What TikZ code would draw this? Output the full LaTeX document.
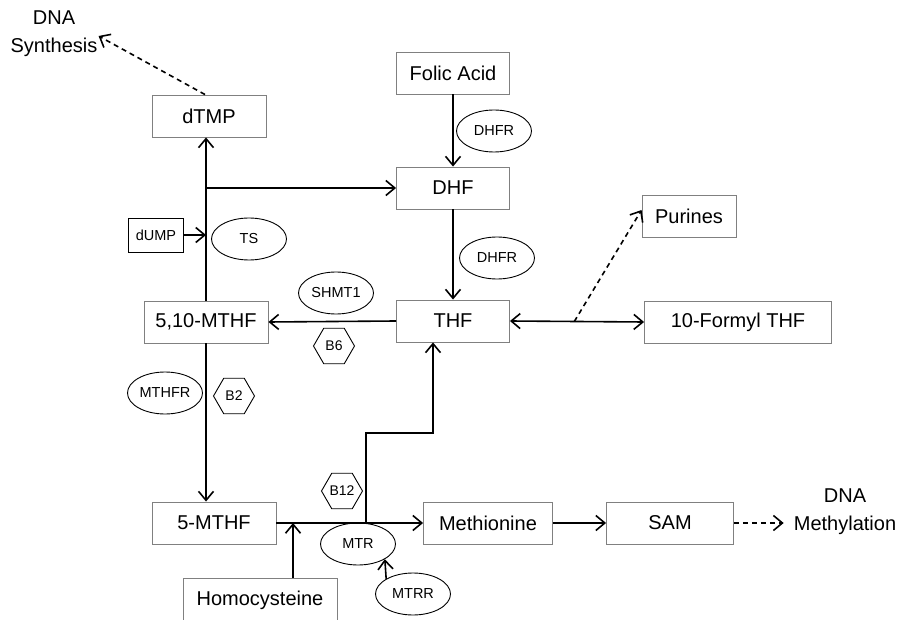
\documentclass[tikz,border=0pt]{standalone}
\usepackage{fontspec}
\setmainfont{Liberation Sans}
\usepackage{tikz}
\usetikzlibrary{shapes.geometric}
\usetikzlibrary{arrows.meta}
\usetikzlibrary{calc}
\usetikzlibrary{positioning}
\tikzset{
  Metabolit/.style={draw=gray, line width=0.9pt, minimum height=42pt, inner sep=0pt,
    font=\fontsize{20}{24}\selectfont}, % Kasten
  Enzym/.style={draw, ellipse, line width=0.9pt, minimum width=75pt, minimum height=42pt,
    inner sep=0pt, font=\fontsize{14.5}{17}\selectfont}, % Enzym-Ellipse
  Vitamin/.style={draw, regular polygon, regular polygon sides=6, line width=0.9pt,
    minimum size=41pt, inner sep=0pt, font=\fontsize{14}{17}\selectfont}, % Cofaktor
  Ziel/.style={align=center, inner sep=1pt, font=\fontsize{20}{28}\selectfont},
  Pfeil/.style={line width=1.6pt,->},
  SPfeil/.style={Pfeil,dash pattern=on 5pt off 4pt}
}

\begin{document}
\begin{tikzpicture}[x=1pt, y=-1pt,
>={Straight Barb[length=9pt,width=15pt]} % Pfeilspitzen
]
\useasboundingbox (0,0) rectangle (899,620);

%Stoffe
\node[Metabolit, minimum width=114pt] (dTMP) at (209,116) {dTMP};
\node[Metabolit, minimum width=113pt] (Folic) at (453,73) {Folic Acid};
\node[Metabolit, minimum width=113pt] (DHF) at (453,188) {DHF};
\node[Metabolit, minimum width=113pt] (THF) at (453,321) {THF};
\node[Metabolit, minimum width=124pt] (MTHFa) at (206,322) {5,10-MTHF};
\node[Metabolit, minimum width=94pt] (Purines) at (689,216) {Purines};
\node[Metabolit, minimum width=187pt] (Formyl) at (738,322) {10-Formyl THF};
\node[Metabolit, minimum width=124pt] (MTHFb) at (214,523) {5-MTHF};
\node[Metabolit, minimum width=129pt] (Met) at (488,523) {Methionine};
\node[Metabolit, minimum width=127pt] (SAM) at (670,523) {SAM};
\node[Metabolit, minimum width=154pt, minimum height=44pt] (Hcy) at (260,600) {Homocysteine};
\node[draw, line width=0.9pt, minimum width=55pt, minimum height=34pt, inner sep=0pt,
  font=\fontsize{14.5}{17}\selectfont] (dUMP) at (156,235) {dUMP};

%Enzyme und Vitamine
\node[Enzym] (DHFRa) at (494,131) {DHFR};
\node[Enzym] (DHFRb) at (497,258) {DHFR};
\node[Enzym] (TS) at (249,239) {TS};
\node[Enzym] (SHMT) at (336,293) {SHMT1};
\node[Enzym] (MTHFR) at (165,393) {MTHFR};
\node[Enzym] (MTR) at (358,544) {MTR};
\node[Enzym] (MTRR) at (413,594) {MTRR};
\node[Vitamin] (B6) at (334,346) {B6};
\node[Vitamin] (B2) at (234,396) {B2};
\node[Vitamin] (B12) at (342,491) {B12};

%Endpunkte
\node[Ziel] (Synth) at (54,34) {DNA\\Synthesis};
\node[Ziel] (Methyl) at (845,512) {DNA\\Methylation};
\coordinate (Abzw) at ($(THF.east)!0.48!(Formyl.west)$);
\coordinate (Gabel) at (366,523);
\coordinate (Knick) at (366,433);

%Pfeile
\draw[SPfeil] ([xshift=-4pt]dTMP.north) -- ([yshift=-2pt]Synth.east);
\draw[Pfeil] (Folic.south) -- (DHF.north);
\draw[Pfeil] (DHF.south) -- (THF.north);
\draw[Pfeil] (MTHFa.north) -- (MTHFa.north |- dTMP.south);
\draw[Pfeil] (MTHFa.north |- DHF.west) -- (DHF.west);
\draw[Pfeil] (dUMP.east) -- (dUMP.east -| MTHFa.north);
\draw[Pfeil] (THF.west) -- (MTHFa.east);
\draw[Pfeil] (MTHFa.south) -- (MTHFa.south |- MTHFb.north);
\draw[Pfeil] (MTHFb.east) -- (Met.west);
\draw[Pfeil] ([xshift=33pt]Hcy.north) -- ([xshift=33pt]Hcy.north |- MTHFb.east);
\draw[Pfeil] (Gabel) -- (Knick) -| ([xshift=-20pt]THF.south);
\draw[Pfeil] (MTRR.north west) -- (MTR.south east);
\draw[Pfeil] (Met.east) -- (SAM.west);
\draw[SPfeil] (SAM.east) -- ([xshift=-9pt]SAM.east -| Methyl.west);
\draw[Pfeil,<->] (THF.east) -- (Formyl.west);
\draw[SPfeil] (Abzw) -- ([yshift=6pt]Purines.west);

\end{tikzpicture}
\end{document}
